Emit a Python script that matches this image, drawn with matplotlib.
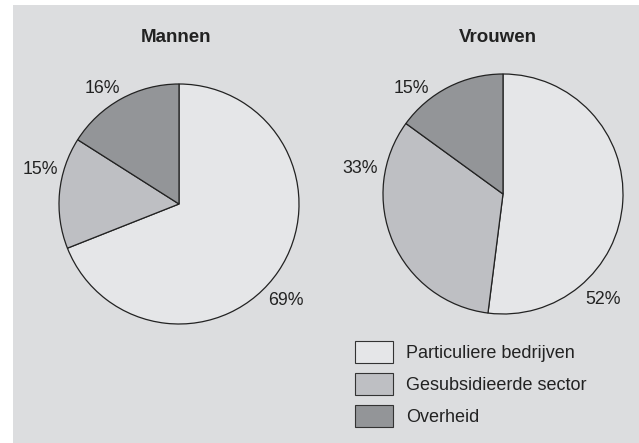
import numpy as np
import matplotlib
matplotlib.use("Agg")
import matplotlib.pyplot as plt
from matplotlib.patches import Rectangle, Patch

plt.rcParams['font.family'] = ['Liberation Sans', 'DejaVu Sans']

categories = ['Particuliere bedrijven', 'Gesubsidieerde sector', 'Overheid']
groups = ['Mannen', 'Vrouwen']
mannen = [69, 15, 16]
vrouwen = [52, 33, 15]
colours = ['#e5e6e8', '#bebfc3', '#939598']

# label placement (angle in degrees, distance in radii) per wedge
label_pos = {
    'Mannen': [(-42, 1.20), (166, 1.19), (123.5, 1.15)],
    'Vrouwen': [(-46.7, 1.21), (170, 1.21), (131, 1.16)],
}

W, H = 639, 443
fig = plt.figure(figsize=(W / 100, H / 100), dpi=100)
fig.patch.set_facecolor('white')

# grey panel
fig.add_artist(Rectangle((13 / W, 0), 1, 1 - 5 / H, transform=fig.transFigure,
                         facecolor='#dcdddf', edgecolor='none', zorder=0))


def px_axes(cx, cy, r):
    return fig.add_axes([(cx - r) / W, (H - cy - r) / H, 2 * r / W, 2 * r / H])


def draw_pie(ax, values, title, labels_at, title_x):
    ax.pie(values, colors=colours, startangle=90, counterclock=False,
           wedgeprops=dict(edgecolor='#222222', linewidth=0.9))
    ax.set_xlim(-1, 1)
    ax.set_ylim(-1, 1)
    ax.set_aspect('equal')
    ax.axis('off')
    for v, (ang, d) in zip(values, labels_at):
        a = np.radians(ang)
        ax.text(d * np.cos(a), d * np.sin(a), f'{v}%', ha='center', va='center',
                fontsize=12.8, color='#222222', clip_on=False)
    fig.text(title_x / W, 1 - 37 / H, title, ha='center', va='center',
             fontsize=13.5, fontweight='bold', color='#222222')


ax1 = px_axes(179, 204, 120)
draw_pie(ax1, mannen, groups[0], label_pos['Mannen'], 176)
ax2 = px_axes(503, 194, 120)
draw_pie(ax2, vrouwen, groups[1], label_pos['Vrouwen'], 498)

handles = [Patch(facecolor=c, edgecolor='#333333', linewidth=0.8) for c in colours]
fig.legend(handles, categories, loc='upper left',
           bbox_to_anchor=(355 / W, 1 - 341 / H), frameon=False,
           fontsize=13, handlelength=2.1, handleheight=1.5,
           labelspacing=0.55, handletextpad=0.72, borderpad=0, borderaxespad=0,
           labelcolor='#222222')

fig.savefig('out.png', dpi=100)
